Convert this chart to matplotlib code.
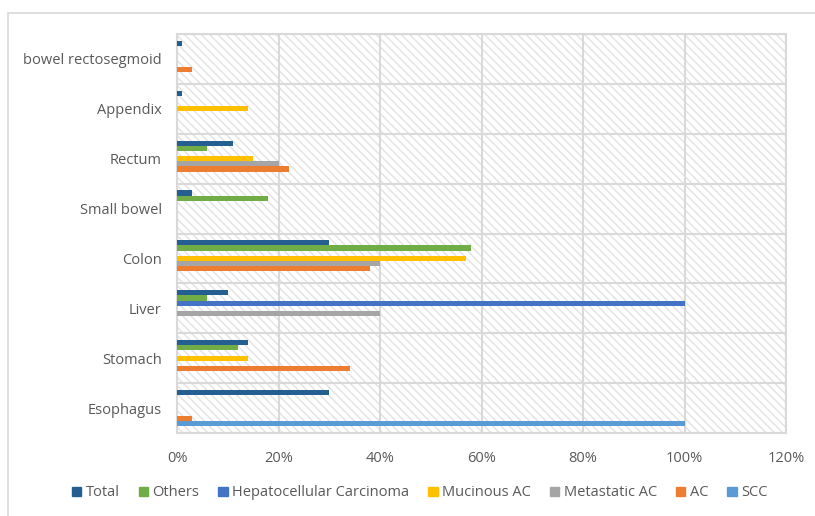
import matplotlib.pyplot as plt
import numpy as np
from matplotlib.patches import Patch, Rectangle

sites = ['Esophagus', 'Stomach', 'Liver', 'Colon', 'Small bowel', 'Rectum',
         'Appendix', 'bowel rectosegmoid']
series = ['Total', 'Others', 'Hepatocellular Carcinoma', 'Mucinous AC',
          'Metastatic AC', 'AC', 'SCC']

# percentages per site, same order as sites
total = [30, 14, 10, 30, 3, 11, 1, 1]
others = [0, 12, 6, 58, 18, 6, 0, 0]
hepatocellular = [0, 0, 100, 0, 0, 0, 0, 0]
mucinous = [0, 14, 0, 57, 0, 15, 14, 0]
metastatic = [0, 0, 40, 40, 0, 20, 0, 0]
ac = [3, 34, 0, 38, 0, 22, 0, 3]
scc = [100, 0, 0, 0, 0, 0, 0, 0]

colors = ['#255e91', '#70ad47', '#4472c4', '#ffc000', '#a5a5a5', '#ed7d31', '#5b9bd5']
xticks = [0, 20, 40, 60, 80, 100, 120]

plt.rcParams['font.family'] = ['Open Sans', 'DejaVu Sans']
plt.rcParams['hatch.linewidth'] = 1.1
text_col = '#595959'
grid_col = '#d9d9d9'

fig = plt.figure(figsize=(8.15, 5.16), dpi=100)
ax = fig.add_axes([177 / 815, 1 - 433 / 516, 609 / 815, 399 / 516])

# outer chart border (only the top-left part is visible)
fig.patches.append(Rectangle((8 / 815, -0.1), 1.2, 1 - 13 / 516 + 0.1,
                             transform=fig.transFigure, fill=False,
                             edgecolor=grid_col, lw=1.2))

# hatched plot area background
ax.add_patch(Rectangle((0, 0), 1, 1, transform=ax.transAxes, facecolor='white',
                       edgecolor='#e4e4e4', hatch='\\' * 4, lw=0, zorder=0))

y = np.arange(len(sites))
h = 0.104
data = [total, others, hepatocellular, mucinous, metastatic, ac, scc]
for j, (name, vals, c) in enumerate(zip(series, data, colors)):
    ax.barh(y + (3 - j) * h, vals, height=h, color=c, label=name, zorder=3)

ax.set_xlim(0, 120)
ax.set_ylim(-0.5, len(sites) - 0.5)
ax.set_xticks(xticks)
ax.set_xticklabels([f'{t}%' for t in xticks])
ax.set_yticks(y)
ax.set_yticklabels(sites)
ax.set_yticks(np.arange(len(sites) + 1) - 0.5, minor=True)

ax.grid(axis='x', color=grid_col, lw=1.5, zorder=1)
ax.grid(axis='y', which='minor', color=grid_col, lw=1.5, zorder=1)
ax.grid(axis='y', which='major', visible=False)
ax.tick_params(axis='both', which='both', length=0, colors=text_col, labelsize=10.5)
ax.tick_params(axis='x', pad=13)
ax.tick_params(axis='y', pad=11)
for s in ax.spines.values():
    s.set_color(grid_col)
    s.set_linewidth(1.5)

handles = [Patch(color=c, label=n) for n, c in zip(series, colors)]
fig.legend(handles=handles, loc='center', bbox_to_anchor=(0.515, 1 - 493 / 516),
           ncol=7, frameon=False, fontsize=10.5, labelcolor=text_col,
           handlelength=0.65, handleheight=0.65, handletextpad=0.3,
           columnspacing=1.3)

fig.savefig('out.png', dpi=100, facecolor='white')
